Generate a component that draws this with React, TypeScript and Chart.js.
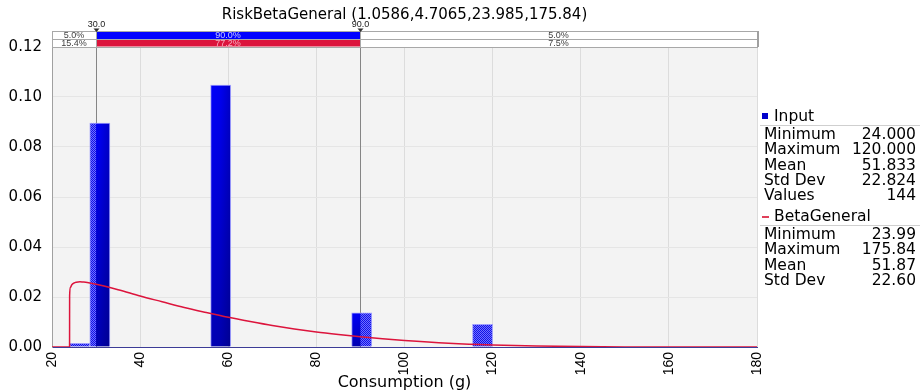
import React, { useEffect, useRef } from 'react';
import { Chart, registerables } from 'chart.js';

Chart.register(...registerables);

// ---- text ----
const chartTitle = 'RiskBetaGeneral (1.0586,4.7065,23.985,175.84)';
const axisTitleX = 'Consumption (g)';

// ---- histogram of the input (density per bin) ----
const binLow = [24.0, 28.571, 56.0, 88.0, 115.429];
const binHigh = [28.571, 33.143, 60.571, 92.571, 120.0];
const binDensity = [0.0015, 0.0896, 0.1048, 0.0137, 0.0091];

// ---- fitted BetaGeneral density ----
const fitX = [20, 23.985, 24.0, 24.2, 24.5, 25, 25.5, 26.35, 27, 28, 30, 35, 40, 45, 50, 55, 60, 65, 70, 75, 80, 85, 90, 95, 100, 110, 120, 130, 140, 150, 160, 170, 180];
const fitY = [0, 0, 0.0205, 0.0239, 0.0249, 0.0256, 0.0259, 0.0261, 0.026, 0.0258, 0.0251, 0.0229, 0.0204, 0.0181, 0.0158, 0.0138, 0.0119, 0.0102, 0.0086, 0.0072, 0.006, 0.005, 0.0041, 0.0033, 0.0026, 0.0015, 0.0008, 0.0004, 0.00016, 0.00005, 0.00001, 0, 0];

// ---- delimiters and the shares either side of them ----
const delimiterLow = 30;
const delimiterHigh = 90;
const delimiterLabels = ['30.0', '90.0'];
const inputShares = ['5.0%', '90.0%', '5.0%'];
const fitShares = ['15.4%', '77.2%', '7.5%'];

// ---- axes ----
const xMin = 20;
const xMax = 180;
const xStep = 20;
const yMin = 0;
const yMax = 0.12;
const yStep = 0.02;

// ---- statistics panel ----
const inputStatLabels = ['Minimum', 'Maximum', 'Mean', 'Std Dev', 'Values'];
const inputStatValues = ['24.000', '120.000', '51.833', '22.824', '144'];
const fitStatLabels = ['Minimum', 'Maximum', 'Mean', 'Std Dev'];
const fitStatValues = ['23.99', '175.84', '51.87', '22.60'];

const BASE_FONT = "'DejaVu Sans', Verdana, sans-serif";
const TICK_FONT = "'Liberation Sans', Arial, sans-serif";
const SMALL_FONT = "'Liberation Sans', Arial, sans-serif";

function checkerPattern(g: CanvasRenderingContext2D) {
  const c = document.createElement('canvas');
  c.width = 2;
  c.height = 2;
  const p = c.getContext('2d')!;
  p.fillStyle = '#7070ff';
  p.fillRect(0, 0, 2, 2);
  p.fillStyle = '#1212e6';
  p.fillRect(0, 0, 1, 1);
  p.fillRect(1, 1, 1, 1);
  return g.createPattern(c, 'repeat')!;
}

// Solid shaded fill inside the delimiters, checker hatch outside them.
function barFill(context: any) {
  const chart = context.chart;
  const xs = chart.scales && chart.scales.x;
  const ys = chart.scales && chart.scales.y;
  const i = context.dataIndex;
  if (context.type !== 'data' || !xs || !ys || !chart.width || !chart.height) return '#0000e0';
  const x0 = xs.getPixelForValue(binLow[i]);
  const x1 = xs.getPixelForValue(binHigh[i]);
  const yTop = ys.getPixelForValue(binDensity[i]);
  const yBase = ys.getPixelForValue(0);
  const dLo = xs.getPixelForValue(delimiterLow);
  const dHi = xs.getPixelForValue(delimiterHigh);
  if (![x0, x1, yTop, yBase, dLo, dHi].every((v) => Number.isFinite(v)) || yBase <= yTop || x1 <= x0) return '#0000e0';
  const off = document.createElement('canvas');
  off.width = chart.width;
  off.height = chart.height;
  const g = off.getContext('2d')!;
  const h = yBase - yTop;
  const vert = g.createLinearGradient(0, yTop, 0, yBase);
  vert.addColorStop(0, '#0000fa');
  vert.addColorStop(1, '#0000b4');
  g.fillStyle = vert;
  g.fillRect(x0, yTop, x1 - x0, h);
  const horiz = g.createLinearGradient(x0, 0, x1, 0);
  horiz.addColorStop(0, 'rgba(0,0,40,0)');
  horiz.addColorStop(0.5, 'rgba(0,0,40,0.05)');
  horiz.addColorStop(1, 'rgba(0,0,40,0.25)');
  g.fillStyle = horiz;
  g.fillRect(x0, yTop, x1 - x0, h);
  g.fillStyle = checkerPattern(g);
  if (x0 < dLo) g.fillRect(x0, yTop, Math.min(x1, dLo) - x0, h);
  if (x1 > dHi) {
    const s = Math.max(x0, dHi);
    g.fillRect(s, yTop, x1 - s, h);
  }
  return chart.ctx.createPattern(off, 'no-repeat');
}

const plotPanel = {
  id: 'plotPanel',
  beforeDraw(chart: any) {
    const { ctx, chartArea: a } = chart;
    ctx.save();
    ctx.fillStyle = '#ffffff';
    ctx.fillRect(0, 0, chart.width, chart.height);
    ctx.fillStyle = '#f3f3f3';
    ctx.fillRect(a.left, a.top, a.right - a.left, a.bottom - a.top);
    ctx.restore();
  },
};

const TABLE_TOP = 31;
const TABLE_MID = 39;
const TABLE_BOTTOM = 46.5;

const delimiterPlugin = {
  id: 'delimiters',
  beforeDatasetsDraw(chart: any) {
    const { ctx, chartArea: a } = chart;
    const xs = chart.scales.x;
    ctx.save();
    ctx.strokeStyle = '#858585';
    ctx.lineWidth = 1;
    [delimiterLow, delimiterHigh].forEach((v) => {
      const px = Math.round(xs.getPixelForValue(v)) + 0.5;
      ctx.beginPath();
      ctx.moveTo(px, TABLE_TOP);
      ctx.lineTo(px, a.bottom);
      ctx.stroke();
    });
    ctx.restore();
  },
  afterDraw(chart: any) {
    const { ctx } = chart;
    const xs = chart.scales.x;
    const edges = [xs.left, xs.getPixelForValue(delimiterLow), xs.getPixelForValue(delimiterHigh), xs.right].map((v: number) => Math.round(v));
    const rows = [
      { top: TABLE_TOP, bottom: TABLE_MID, shares: inputShares, fill: '#0000ff', text: '#c8c8ff' },
      { top: TABLE_MID, bottom: TABLE_BOTTOM, shares: fitShares, fill: '#dc143c', text: '#f4b0c0' },
    ];
    ctx.save();
    ctx.font = `9px ${SMALL_FONT}`;
    ctx.textAlign = 'center';
    ctx.textBaseline = 'middle';
    rows.forEach((r) => {
      for (let c = 0; c < 3; c++) {
        const l = edges[c];
        const rr = edges[c + 1];
        ctx.fillStyle = c === 1 ? r.fill : '#ffffff';
        ctx.fillRect(l, r.top, rr - l, r.bottom - r.top);
        ctx.strokeStyle = '#a8a8a8';
        ctx.lineWidth = 1;
        ctx.strokeRect(l + 0.5, Math.round(r.top) + 0.5, rr - l, Math.round(r.bottom - r.top));
        ctx.fillStyle = c === 1 ? r.text : '#404040';
        ctx.fillText(r.shares[c], (l + rr) / 2, (r.top + r.bottom) / 2 + 0.5);
      }
    });
    // heavier right edge of the table
    ctx.fillStyle = '#a0a0a0';
    ctx.fillRect(edges[3], TABLE_TOP, 2, TABLE_BOTTOM - TABLE_TOP + 0.5);
    // delimiter markers and values
    [delimiterLow, delimiterHigh].forEach((v, k) => {
      const px = Math.round(xs.getPixelForValue(v)) + 0.5;
      ctx.fillStyle = '#303030';
      ctx.beginPath();
      ctx.moveTo(px - 3, 28.5);
      ctx.lineTo(px + 3, 28.5);
      ctx.lineTo(px, 32);
      ctx.closePath();
      ctx.fill();
      ctx.fillStyle = '#202020';
      ctx.fillText(delimiterLabels[k], px, 25);
    });
    ctx.restore();
  },
};

function StatBlock(props: { top: number; title: string; marker: 'box' | 'dash'; labels: string[]; values: string[] }) {
  const { top, title, marker, labels, values } = props;
  const rowH = 15.3;
  return (
    <div style={{ position: 'absolute', left: 760, top, width: 160 }}>
      <div style={{ height: 18, lineHeight: '18px', borderBottom: '1px solid #cfcfcf', position: 'relative', whiteSpace: 'nowrap' }}>
        {marker === 'box' ? (
          <span style={{ position: 'absolute', left: 2, top: 6, width: 6, height: 6, background: '#0000cc' }} />
        ) : (
          <span style={{ position: 'absolute', left: 2, top: 9, width: 7, height: 1.5, background: '#e0405a' }} />
        )}
        <span style={{ position: 'absolute', left: 14, top: 0 }}>{title}</span>
      </div>
      <div style={{ paddingTop: 1 }}>
        {labels.map((lab, i) => (
          <div key={lab} style={{ height: rowH, lineHeight: `${rowH}px`, position: 'relative', whiteSpace: 'nowrap' }}>
            <span style={{ position: 'absolute', left: 4 }}>{lab}</span>
            <span style={{ position: 'absolute', right: 4 }}>{values[i]}</span>
          </div>
        ))}
      </div>
    </div>
  );
}

export default function App() {
  const canvasRef = useRef<HTMLCanvasElement | null>(null);

  useEffect(() => {
    const canvas = canvasRef.current;
    if (!canvas) return;
    Chart.defaults.font.family = BASE_FONT;
    Chart.defaults.color = '#000000';

    const chart = new Chart(canvas, {
      type: 'bar',
      data: {
        datasets: [
          {
            type: 'line',
            label: 'BetaGeneral',
            data: fitX.map((x, i) => ({ x, y: fitY[i] })),
            borderColor: '#dc143c',
            borderWidth: 1.5,
            pointRadius: 0,
            cubicInterpolationMode: 'monotone',
            fill: false,
            order: 0,
          } as any,
          {
            type: 'bar',
            label: 'Input',
            data: binLow.map((lo, i) => ({ x: (lo + binHigh[i]) / 2, y: binDensity[i] })),
            backgroundColor: barFill,
            borderColor: 'rgba(150,150,255,0.9)',
            borderWidth: 1,
            borderSkipped: 'start',
            barPercentage: 1,
            categoryPercentage: 1,
            order: 1,
          } as any,
        ],
      },
      options: {
        animation: false,
        responsive: true,
        maintainAspectRatio: false,
        events: [],
        layout: { padding: { left: 0, right: 164, top: 0, bottom: 0 } },
        plugins: {
          legend: { display: false },
          tooltip: { enabled: false },
          title: {
            display: true,
            text: chartTitle,
            fullSize: false,
            color: '#000000',
            font: { size: 15, weight: 'normal', family: BASE_FONT },
            padding: { top: 6, bottom: 23 },
          },
        },
        scales: {
          x: {
            type: 'linear',
            min: xMin,
            max: xMax,
            offset: false,
            ticks: {
              stepSize: xStep,
              minRotation: 90,
              maxRotation: 90,
              padding: 5,
              color: '#000000',
              font: { size: 14, family: TICK_FONT },
            },
            grid: { color: '#dcdcdc', drawTicks: false, offset: false },
            border: { color: '#3c3c96' },
            title: {
              display: true,
              text: axisTitleX,
              color: '#000000',
              font: { size: 16, family: BASE_FONT },
              padding: { top: 0, bottom: 0 },
            },
            afterFit: (s: any) => {
              s.height = 45;
            },
          },
          y: {
            min: yMin,
            max: yMax,
            ticks: {
              stepSize: yStep,
              padding: 10,
              color: '#000000',
              font: { size: 15, family: BASE_FONT },
              callback: (v: any) => Number(v).toFixed(2),
            },
            grid: { color: '#e5e5e5', drawTicks: false },
            border: { color: '#a0a0a0' },
            afterFit: (s: any) => {
              s.width = 52;
            },
          },
        },
      } as any,
      plugins: [plotPanel, delimiterPlugin],
    });
    return () => chart.destroy();
  }, []);

  return (
    <div style={{ position: 'absolute', left: 0, top: 0, width: 921, height: 392, background: '#ffffff', fontFamily: BASE_FONT, fontSize: 15.5, color: '#000' }}>
      <div style={{ position: 'absolute', left: 0, top: 0, width: 921, height: 392 }}>
        <canvas ref={canvasRef} />
      </div>
      <StatBlock top={107} title="Input" marker="box" labels={inputStatLabels} values={inputStatValues} />
      <StatBlock top={207} title="BetaGeneral" marker="dash" labels={fitStatLabels} values={fitStatValues} />
    </div>
  );
}
